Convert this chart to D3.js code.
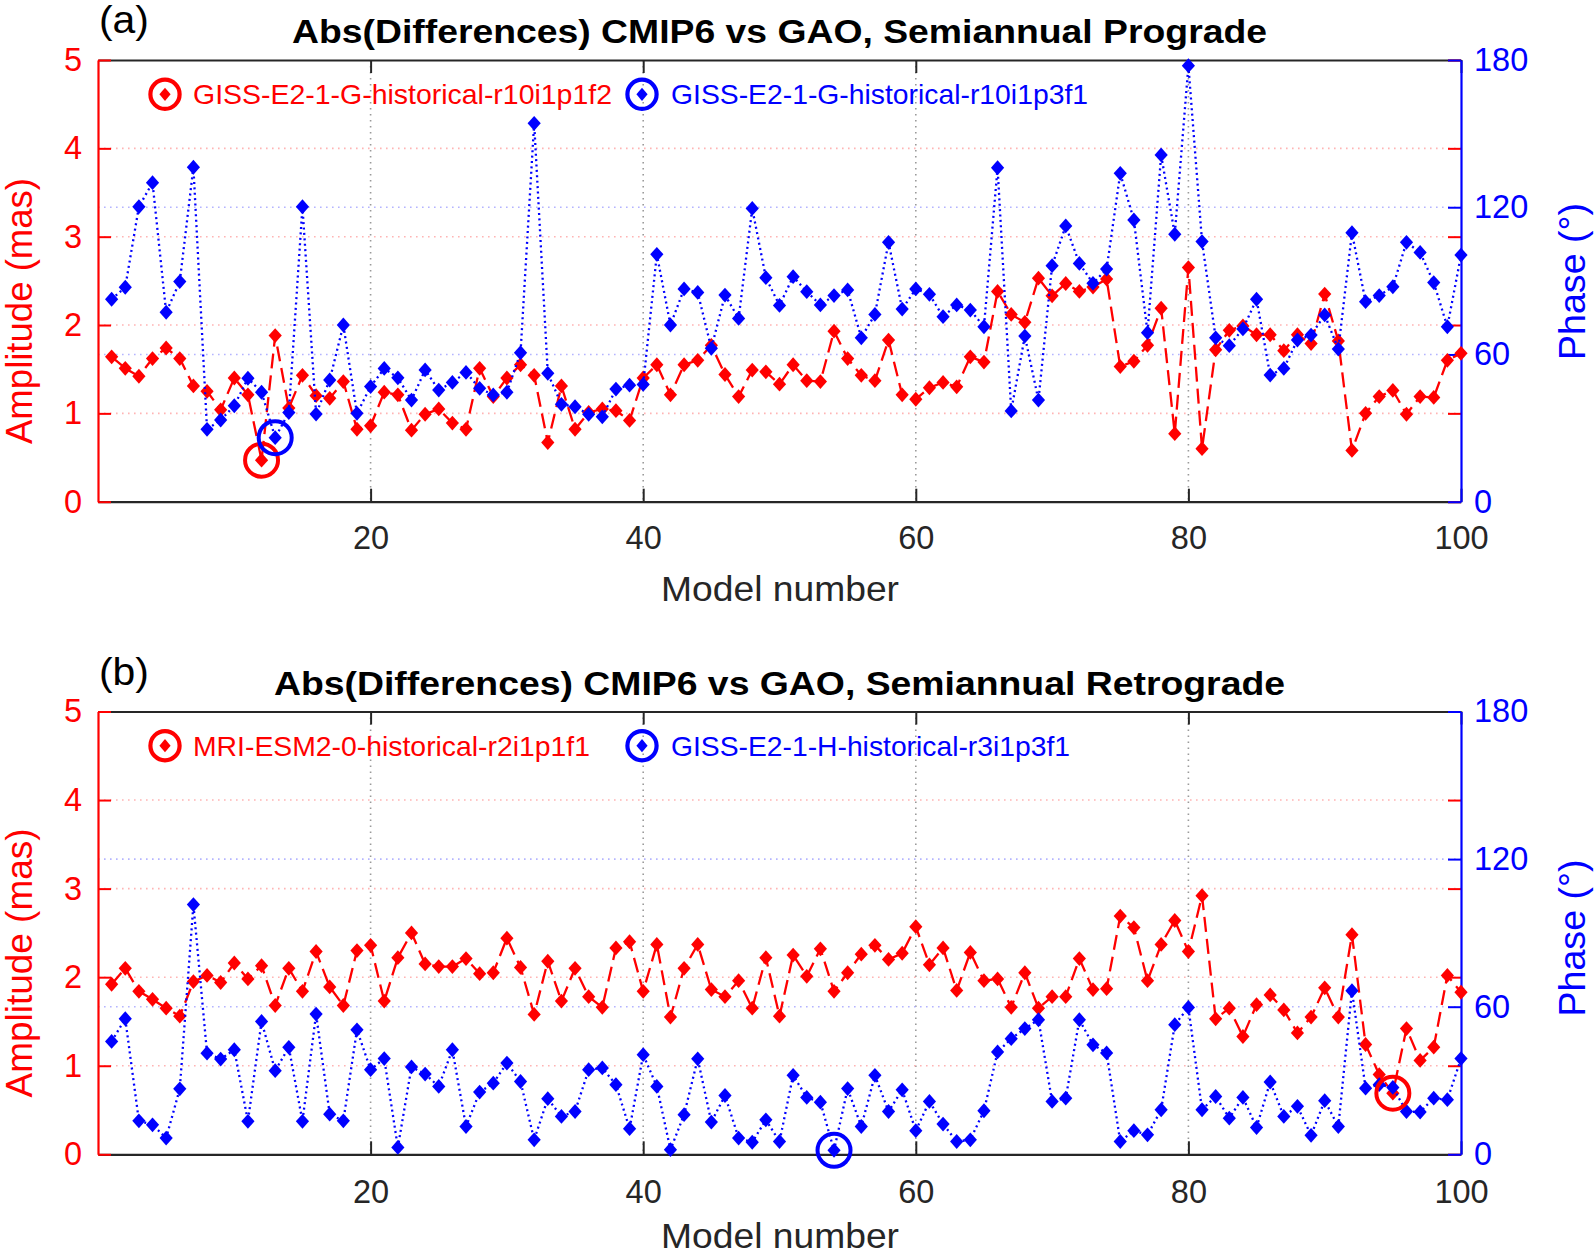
<!DOCTYPE html>
<html><head><meta charset="utf-8">
<script src="https://cdn.jsdelivr.net/npm/d3@7"></script>
<style>body{margin:0;background:#fff} svg{display:block}</style>
</head><body>
<script>
// ---------------- data ----------------
const modelNumbers = d3.range(1, 101);
const xTicks = [20, 40, 60, 80, 100];
const ampTicks = [0, 1, 2, 3, 4, 5];
const phaseTicks = [0, 60, 120, 180];

const ampA = [1.64,1.51,1.42,1.62,1.74,1.62,1.31,1.25,1.04,1.40,
  1.21,0.47,1.88,1.06,1.43,1.20,1.17,1.36,0.82,0.86,
  1.24,1.21,0.81,0.99,1.05,0.89,0.82,1.51,1.19,1.40,
  1.55,1.43,0.67,1.31,0.82,1.01,1.05,1.03,0.92,1.40,
  1.55,1.21,1.55,1.60,1.77,1.44,1.19,1.49,1.47,1.33,
  1.55,1.37,1.36,1.93,1.62,1.43,1.37,1.83,1.21,1.16,
  1.29,1.35,1.30,1.64,1.58,2.38,2.12,2.03,2.53,2.33,
  2.47,2.38,2.43,2.52,1.53,1.59,1.77,2.19,0.77,2.65,
  0.60,1.72,1.94,1.99,1.89,1.89,1.71,1.89,1.79,2.35,
  1.82,0.58,1.00,1.19,1.26,0.99,1.19,1.18,1.60,1.68];

const phaseA = [82.5,87.4,120.2,130.0,77.2,89.7,136.3,29.5,33.3,39.1,
  50.3,44.6,26.1,36.3,120.2,35.7,49.6,72.0,36.0,46.9,
  54.3,50.5,41.4,53.7,45.5,48.6,52.7,46.2,43.5,44.6,
  60.7,154.2,52.3,39.7,38.7,35.6,34.6,45.9,47.5,47.8,
  100.8,72.0,86.7,85.3,62.5,84.2,74.7,119.5,91.3,80.0,
  91.7,85.6,80.2,84.0,86.3,66.8,76.3,105.7,78.5,86.7,
  84.5,75.4,80.2,78.1,71.3,136.1,37.0,67.5,41.4,96.2,
  112.4,97.1,89.0,94.8,133.8,114.8,68.9,141.3,109.0,177.7,
  106.0,66.8,63.6,70.4,82.5,51.6,54.3,65.9,67.9,76.1,
  62.2,109.6,81.5,84.0,87.6,105.7,101.6,89.3,71.3,100.5];

const ampB = [1.92,2.10,1.84,1.75,1.65,1.56,1.95,2.02,1.94,2.16,
  1.98,2.13,1.68,2.10,1.84,2.29,1.89,1.68,2.30,2.36,
  1.73,2.22,2.50,2.15,2.12,2.12,2.21,2.04,2.05,2.44,
  2.11,1.58,2.18,1.73,2.10,1.78,1.66,2.33,2.40,1.84,
  2.37,1.55,2.10,2.37,1.86,1.78,1.96,1.65,2.22,1.56,
  2.25,2.01,2.32,1.84,2.05,2.26,2.36,2.20,2.27,2.57,
  2.14,2.33,1.85,2.28,1.96,1.98,1.66,2.05,1.65,1.78,
  1.78,2.21,1.86,1.87,2.69,2.56,1.96,2.37,2.64,2.29,
  2.92,1.53,1.65,1.33,1.69,1.80,1.63,1.37,1.55,1.88,
  1.55,2.48,1.24,0.90,0.69,1.42,1.06,1.21,2.02,1.83];

const phaseB = [45.9,55.1,13.6,12.0,6.6,26.6,101.5,41.1,38.7,42.5,
  13.4,54.0,34.0,43.5,13.4,57.0,16.3,13.6,50.6,34.4,
  38.9,2.8,35.5,32.6,27.6,42.5,11.3,25.3,28.9,37.1,
  29.6,5.9,22.6,15.4,17.4,34.4,35.1,28.3,10.4,40.5,
  27.6,1.9,16.1,38.8,13.1,23.9,6.6,4.9,14.0,5.2,
  32.1,23.1,21.2,1.6,26.7,11.3,32.1,17.4,26.2,9.6,
  21.5,12.3,5.2,5.9,17.7,41.6,47.0,51.1,54.7,21.5,
  22.8,54.7,44.5,41.2,5.2,9.6,7.9,18.1,52.7,59.7,
  18.1,23.5,14.7,23.1,10.9,29.4,15.4,19.5,7.7,21.8,
  11.3,66.5,26.9,28.3,27.2,17.4,17.2,22.8,22.2,38.9];

const legendA = ["GISS-E2-1-G-historical-r10i1p1f2", "GISS-E2-1-G-historical-r10i1p3f1"];
const legendB = ["MRI-ESM2-0-historical-r2i1p1f1", "GISS-E2-1-H-historical-r3i1p3f1"];
const titles = ["Abs(Differences) CMIP6 vs GAO, Semiannual Prograde",
                "Abs(Differences) CMIP6 vs GAO, Semiannual Retrograde"];
const panelLabels = ["(a)", "(b)"];
const xLabel = "Model number";
const yLeftLabel = "Amplitude (mas)";
const yRightLabel = "Phase (\u00B0)";

// ---------------- drawing ----------------
const W = 1594, H = 1254;
const RED = "#ff0000", BLUE = "#0000ff", AX = "#262626";
const FONT = "'Liberation Sans', Arial, Helvetica, sans-serif";
const left = 98, right = 1461;

const svg = d3.select("body").append("svg")
  .attr("width", W).attr("height", H)
  .style("font-family", FONT);

const x = d3.scaleLinear().domain([0, 100]).range([left, right]);
const fmt = d3.format("d");

const panels = [
  {top: 60, bottom: 501.7, amp: ampA, phase: phaseA, legend: legendA, title: titles[0], label: panelLabels[0],
   titleY: 42.7, titleLen: 975, labelY: 33, legendY: 94.3, redLegLen: 419, blueLegLen: 417,
   xTickY: 549, xLabelY: 601, yLabelC: 311, yLabelLen: 266, pLabelC: 281.5},
  {top: 711.5, bottom: 1154.3, amp: ampB, phase: phaseB, legend: legendB, title: titles[1], label: panelLabels[1],
   titleY: 694.5, titleLen: 1011, labelY: 685, legendY: 745.7, redLegLen: 397, blueLegLen: 399,
   xTickY: 1203, xLabelY: 1248, yLabelC: 963, yLabelLen: 269, pLabelC: 938}
];

const diamond = (hw, hh) => `M0,${-hh}L${hw},0L0,${hh}L${-hw},0Z`;

function styleAxis(g, color, fs) {
  g.attr("font-family", FONT).attr("font-size", fs).attr("color", color);
  g.selectAll(".tick line").attr("stroke-width", 2);
  g.select(".domain").attr("stroke-width", 2.2);
}

panels.forEach(p => {
  const g = svg.append("g");
  const yA = d3.scaleLinear().domain([0, 5]).range([p.bottom, p.top]);
  const yP = d3.scaleLinear().domain([0, 180]).range([p.bottom, p.top]);

  // grid lines
  g.append("g").selectAll("line").data(xTicks.filter(d => d < 100)).join("line")
    .attr("x1", d => x(d)).attr("x2", d => x(d)).attr("y1", p.top).attr("y2", p.bottom)
    .attr("stroke", "#9a9a9a").attr("stroke-width", 1.6).attr("stroke-dasharray", "1.6,4.4");
  g.append("g").selectAll("line").data(ampTicks.filter(d => d > 0 && d < 5)).join("line")
    .attr("x1", left).attr("x2", right).attr("y1", d => yA(d)).attr("y2", d => yA(d))
    .attr("stroke", "#ffb4b4").attr("stroke-width", 1.6).attr("stroke-dasharray", "1.6,4.4");
  g.append("g").selectAll("line").data(phaseTicks.filter(d => d > 0 && d < 180)).join("line")
    .attr("x1", left).attr("x2", right).attr("y1", d => yP(d)).attr("y2", d => yP(d))
    .attr("stroke", "#b4b4ff").attr("stroke-width", 1.6).attr("stroke-dasharray", "1.6,4.4");

  // top & bottom axes (black)
  const gt = g.append("g").attr("transform", `translate(0,${p.top})`)
    .call(d3.axisTop(x).tickValues(xTicks).tickSize(-13).tickSizeOuter(0).tickFormat(""));
  styleAxis(gt, AX, 32.5);
  const gb = g.append("g").attr("transform", `translate(0,${p.bottom})`)
    .call(d3.axisBottom(x).tickValues(xTicks).tickSize(-13).tickSizeOuter(0).tickFormat(fmt)
      .tickPadding(p.xTickY - p.bottom - 23.1));
  styleAxis(gb, AX, 32.5);

  // left axis (red)
  const gl = g.append("g").attr("transform", `translate(${left},0)`)
    .call(d3.axisLeft(yA).tickValues(ampTicks).tickSize(-13).tickSizeOuter(0).tickPadding(16).tickFormat(fmt));
  styleAxis(gl, RED, 32.5);
  // red ticks mirrored on right side
  const glr = g.append("g").attr("transform", `translate(${right},0)`)
    .call(d3.axisRight(yA).tickValues(ampTicks).tickSize(-13).tickSizeOuter(0).tickFormat(""));
  styleAxis(glr, RED, 32.5);
  glr.select(".domain").remove();
  // right axis (blue)
  const gr = g.append("g").attr("transform", `translate(${right},0)`)
    .call(d3.axisRight(yP).tickValues(phaseTicks).tickSize(-13).tickSizeOuter(0).tickPadding(13).tickFormat(fmt));
  styleAxis(gr, BLUE, 32.5);

  // series lines
  const lineA = d3.line().x((d, i) => x(modelNumbers[i])).y(d => yA(d));
  const lineP = d3.line().x((d, i) => x(modelNumbers[i])).y(d => yP(d));
  g.append("path").datum(p.amp).attr("d", lineA).attr("fill", "none")
    .attr("stroke", RED).attr("stroke-width", 2.3).attr("stroke-dasharray", "15,7");
  g.append("g").selectAll("path").data(p.amp).join("path")
    .attr("transform", (d, i) => `translate(${x(modelNumbers[i])},${yA(d)})`)
    .attr("d", diamond(6.6, 7.4)).attr("fill", RED);
  g.append("path").datum(p.phase).attr("d", lineP).attr("fill", "none")
    .attr("stroke", BLUE).attr("stroke-width", 2.3).attr("stroke-dasharray", "2,3.4");
  g.append("g").selectAll("path").data(p.phase).join("path")
    .attr("transform", (d, i) => `translate(${x(modelNumbers[i])},${yP(d)})`)
    .attr("d", diamond(6.6, 7.4)).attr("fill", BLUE);

  // highlight minima
  const iA = d3.minIndex(p.amp), iP = d3.minIndex(p.phase);
  g.append("circle").attr("cx", x(modelNumbers[iA])).attr("cy", yA(p.amp[iA])).attr("r", 16.5)
    .attr("fill", "none").attr("stroke", RED).attr("stroke-width", 4);
  g.append("circle").attr("cx", x(modelNumbers[iP])).attr("cy", yP(p.phase[iP])).attr("r", 16.5)
    .attr("fill", "none").attr("stroke", BLUE).attr("stroke-width", 4);

  // legend
  const leg = [{cx: 165, tx: 193, color: RED, text: p.legend[0], len: p.redLegLen},
               {cx: 642, tx: 671, color: BLUE, text: p.legend[1], len: p.blueLegLen}];
  leg.forEach(l => {
    g.append("circle").attr("cx", l.cx).attr("cy", p.legendY).attr("r", 14.6)
      .attr("fill", "none").attr("stroke", l.color).attr("stroke-width", 4.2);
    g.append("path").attr("transform", `translate(${l.cx},${p.legendY})`)
      .attr("d", diamond(5.6, 6.6)).attr("fill", l.color);
    g.append("text").attr("x", l.tx).attr("y", p.legendY + 10).attr("fill", l.color)
      .attr("font-size", 28).attr("textLength", l.len).attr("lengthAdjust", "spacingAndGlyphs")
      .text(l.text);
  });

  // titles & labels
  svg.append("text").attr("x", (left + right) / 2).attr("y", p.titleY).attr("text-anchor", "middle")
    .attr("font-size", 33).attr("font-weight", "bold").attr("fill", "#000")
    .attr("textLength", p.titleLen).attr("lengthAdjust", "spacingAndGlyphs").text(p.title);
  svg.append("text").attr("x", 99).attr("y", p.labelY).attr("font-size", 38).attr("fill", "#000")
    .attr("textLength", 50).attr("lengthAdjust", "spacingAndGlyphs")
    .text(p.label);
  svg.append("text").attr("x", 780).attr("y", p.xLabelY).attr("text-anchor", "middle")
    .attr("font-size", 35).attr("fill", AX).attr("textLength", 238).attr("lengthAdjust", "spacingAndGlyphs")
    .text(xLabel);
  svg.append("text").attr("transform", `translate(32,${p.yLabelC}) rotate(-90)`).attr("text-anchor", "middle")
    .attr("font-size", 36).attr("fill", RED).attr("textLength", p.yLabelLen).attr("lengthAdjust", "spacingAndGlyphs")
    .text(yLeftLabel);
  svg.append("text").attr("transform", `translate(1585,${p.pLabelC}) rotate(-90)`).attr("text-anchor", "middle")
    .attr("font-size", 36).attr("fill", BLUE).attr("textLength", 157).attr("lengthAdjust", "spacingAndGlyphs")
    .text(yRightLabel);
});
</script>
</body></html>
